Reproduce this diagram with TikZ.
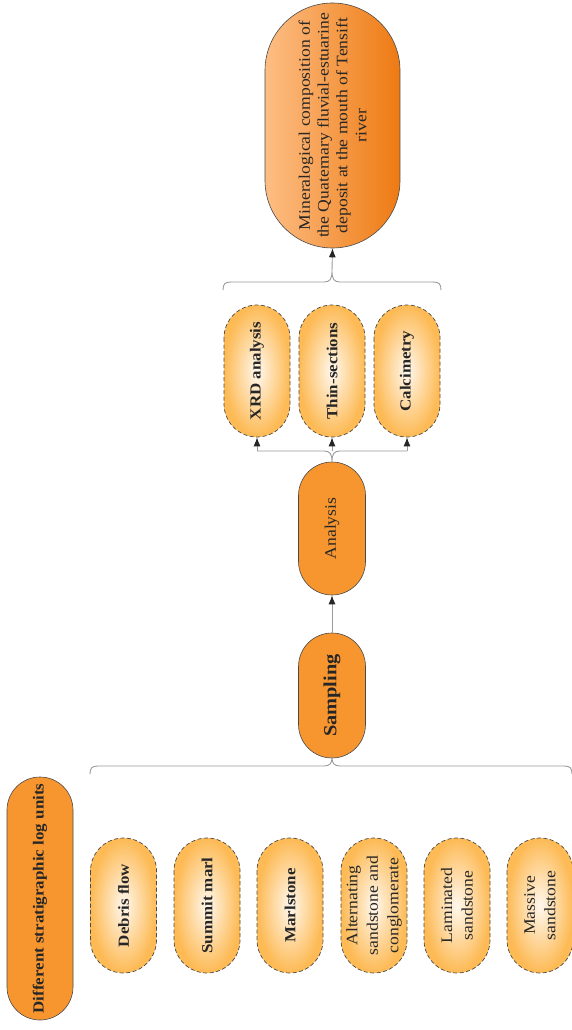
\documentclass[tikz,border=0pt]{standalone}
\usepackage{fontspec}
\setmainfont{Liberation Serif}[FakeStretch=1.1]
\usetikzlibrary{arrows.meta}
\definecolor{orS}{HTML}{F7962F}
\definecolor{orD}{HTML}{FDBA55}
\definecolor{orC}{HTML}{FFF8EE}
\definecolor{topL}{HTML}{FDBE84}
\definecolor{topR}{HTML}{EE7A12}
\definecolor{txt}{HTML}{262626}
\definecolor{bord}{HTML}{4A4A4A}
\definecolor{brc}{HTML}{9A9A9A}
\tikzset{
  box/.style={rotate=90, align=center, text=txt, inner sep=0pt, draw=bord, line width=0.6pt},
  solidbox/.style={box, fill=orS},
  dbox/.style={box, shading=radial, inner color=orC, outer color=orD, dash pattern=on 4pt off 2.5pt, line width=0.7pt,
    minimum width=135pt, minimum height=66pt, rounded corners=33pt},
  fb/.style={font=\fontsize{15.4}{19.5}\selectfont\bfseries},
  fr/.style={font=\fontsize{16}{20.5}\selectfont},
  brace/.style={draw=brc, line width=0.9pt},
  conn/.style={draw=brc, line width=0.9pt, -{Latex[length=9pt,width=7pt,color=txt]}},
}
\begin{document}
\begin{tikzpicture}[x=1pt,y=-1pt]
\useasboundingbox (0,0) rectangle (572,1030);

% top result box
\node[box, minimum width=245pt, minimum height=135pt, rounded corners=67.5pt,
      left color=topL, right color=topR, font=\fontsize{16}{18.8}\selectfont]
  (res) at (332.5,125.5) {Mineralogical composition of\\the Quaternary fluvial-estuarine\\deposit at the mouth of Tensift\\river};

% analysis methods
\node[dbox, minimum width=132pt, fb] (xrd) at (257,371) {XRD analysis};
\node[dbox, minimum width=132pt, fb] (thin) at (332,371) {Thin-sections};
\node[dbox, minimum width=132pt, fb] (calc) at (407,371) {Calcimetry};

% analysis and sampling
\node[solidbox, minimum width=133pt, minimum height=67pt, rounded corners=33.5pt, fr] (ana) at (332,528.5) {Analysis};
\node[solidbox, minimum width=125pt, minimum height=67pt, rounded corners=33.5pt,
      font=\fontsize{18.5}{22}\selectfont\bfseries] (samp) at (332,695.5) {Sampling};

% left title
\node[solidbox, minimum width=243pt, minimum height=66pt, rounded corners=33pt, fb] (units) at (40,898.5) {Different stratigraphic log units};

% stratigraphic units
\node[dbox, fb] (u1) at (123.5,905.5) {Debris flow};
\node[dbox, fb] (u2) at (207,905.5) {Summit marl};
\node[dbox, fb] (u3) at (290,905.5) {Marlstone};
\node[dbox, fr] (u4) at (374,905.5) {Alternating\\sandstone and\\conglomerate};
\node[dbox, fr] (u5) at (457,905.5) {Laminated\\sandstone};
\node[dbox, fr] (u6) at (540,905.5) {Massive\\sandstone};

% bottom brace
\coordinate (bt) at (332,757.5);
\draw[brace] (90,774) .. controls (90,768) and (92,766) .. (98,766) -- (324,766)
  .. controls (330,766) and (332,763) .. (bt)
  .. controls (332,763) and (334,766) .. (340,766) -- (564,766)
  .. controls (570,766) and (572,768) .. (572,774);

% sampling -> analysis
\draw[conn] (samp.east) -- (ana.west);

% middle inverted brace
\coordinate (m1) at (257,451);
\coordinate (m2) at (332,451);
\coordinate (m3) at (407,451);
\coordinate (mt) at (332,461.5);
\draw[brace] (m1) -- (324,451) .. controls (330,451) and (332,454) .. (mt)
  .. controls (332,454) and (334,451) .. (340,451) -- (m3);
\draw[conn] (m1) -- (xrd.west);
\draw[conn] (m2) -- (thin.west);
\draw[conn] (m3) -- (calc.west);

% top brace
\coordinate (tt) at (332,271);
\draw[brace] (223,290) .. controls (223,284) and (225,282) .. (231,282) -- (324,282)
  .. controls (330,282) and (332,279) .. (tt)
  .. controls (332,279) and (334,282) .. (340,282) -- (433,282)
  .. controls (439,282) and (441,284) .. (441,290);
\draw[conn] (tt) -- (res.west);
\end{tikzpicture}
\end{document}
